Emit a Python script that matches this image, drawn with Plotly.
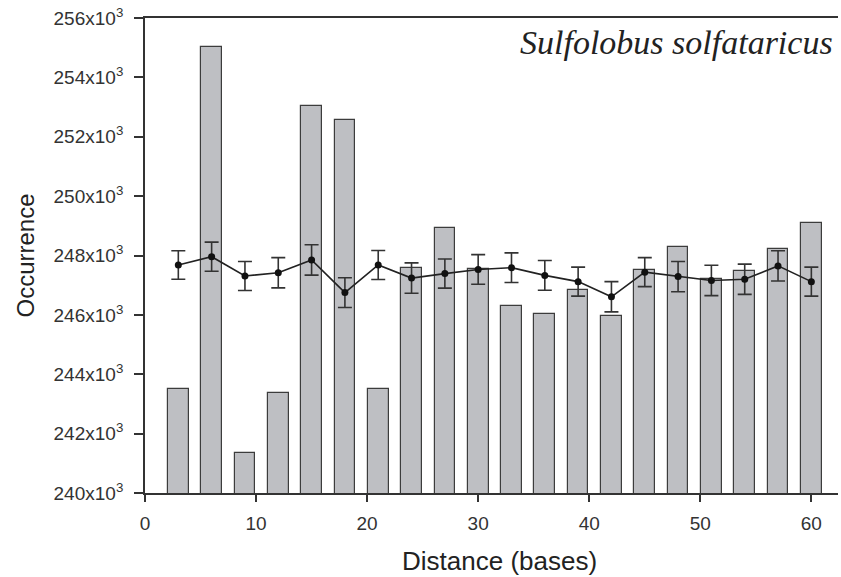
import plotly.graph_objects as go

# Distance (bases)
distance = [3, 6, 9, 12, 15, 18, 21, 24, 27, 30, 33, 36, 39, 42, 45, 48, 51, 54, 57, 60]

# Observed occurrence (x10^3) - bars
observed_k = [243.49, 255.01, 241.36, 243.37, 253.04, 252.57, 243.52, 247.57, 248.92, 247.53,
              246.30, 246.04, 246.85, 245.97, 247.51, 248.28, 247.21, 247.48, 248.22, 249.11]

# Expected (randomised) occurrence (x10^3) - line with error bars
expected_k = [247.68, 247.96, 247.31, 247.42, 247.85, 246.75, 247.68, 247.24, 247.39, 247.53,
              247.59, 247.33, 247.12, 246.61, 247.44, 247.29, 247.16, 247.20, 247.65, 247.12]
expected_err_k = [0.48, 0.49, 0.49, 0.51, 0.51, 0.50, 0.49, 0.51, 0.49, 0.50,
                  0.50, 0.50, 0.49, 0.51, 0.49, 0.51, 0.51, 0.51, 0.51, 0.49]

y_tick_vals = [240, 242, 244, 246, 248, 250, 252, 254, 256]
y_tick_text = [f"{v}x10<sup>3</sup>" for v in y_tick_vals]
x_tick_vals = [0, 10, 20, 30, 40, 50, 60]

title_text = "Sulfolobus solfataricus"
x_title = "Distance (bases)"
y_title = "Occurrence"

fig = go.Figure()

fig.add_trace(go.Bar(
    x=distance, y=observed_k, width=1.86,
    marker=dict(color="#bebfc3", line=dict(color="#3c3c3c", width=1.2)),
    showlegend=False,
))

fig.add_trace(go.Scatter(
    x=distance, y=expected_k, mode="lines+markers",
    line=dict(color="#222222", width=1.6),
    marker=dict(color="#111111", size=7),
    error_y=dict(type="data", array=expected_err_k, visible=True,
                 color="#333333", thickness=1.6, width=7),
    showlegend=False,
))

axis_font = dict(family="Liberation Sans, Arial, sans-serif", size=19, color="#333333")

fig.update_layout(
    width=841, height=577,
    margin=dict(l=145, r=3, t=18, b=84),
    paper_bgcolor="white", plot_bgcolor="white",
    bargap=0,
    xaxis=dict(
        range=[0, 62.4], tickvals=x_tick_vals,
        showline=True, linecolor="#333333", linewidth=1.8, mirror=True,
        ticks="outside", ticklen=7, tickwidth=1.5, tickcolor="#333333",
        showgrid=False, zeroline=False, tickfont=axis_font,
        ticklabelstandoff=5,
    ),
    yaxis=dict(
        range=[240, 256], tickvals=y_tick_vals, ticktext=y_tick_text,
        showline=True, linecolor="#333333", linewidth=1.8,
        ticks="outside", ticklen=9, tickwidth=1.5, tickcolor="#333333",
        showgrid=False, zeroline=False, tickfont=axis_font,
        ticklabelstandoff=7,
    ),
    annotations=[
        dict(text=title_text, xref="paper", yref="paper", x=(835 - 145) / 693, y=1 - (43 - 18) / 475,
             xanchor="right", yanchor="middle", showarrow=False,
             font=dict(family="Liberation Serif, Times New Roman, serif", size=34, color="#222222", style="italic")),
        dict(text=x_title, xref="paper", yref="paper", x=(499 - 145) / 693, y=-(561 - 493) / 475,
             xanchor="center", yanchor="middle", showarrow=False,
             font=dict(family="Liberation Sans, Arial, sans-serif", size=26, color="#222222")),
        dict(text=y_title, xref="paper", yref="paper", x=-(145 - 25) / 693, y=0.5,
             xanchor="center", yanchor="middle", showarrow=False, textangle=-90,
             font=dict(family="Liberation Sans, Arial, sans-serif", size=24, color="#222222")),
    ],
)

fig.write_html("out.html")
